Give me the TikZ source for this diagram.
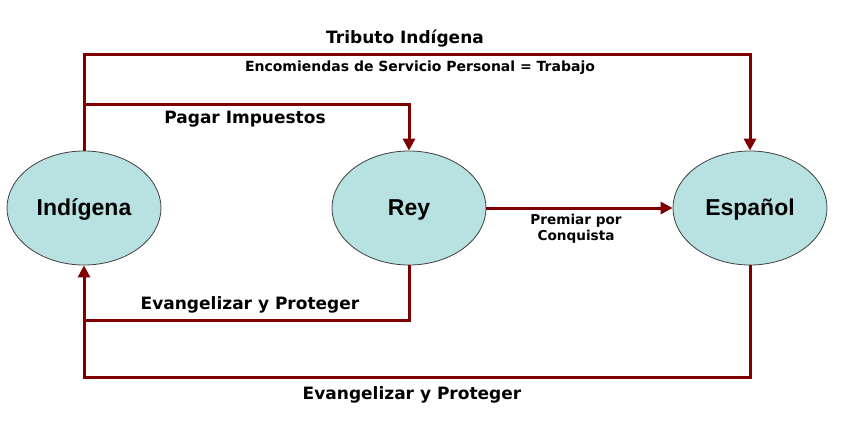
\documentclass[tikz,border=0pt]{standalone}
\usepackage{fontspec}
\setmainfont{DejaVu Sans}
\newfontfamily\nodefont{Liberation Sans}
\usetikzlibrary{arrows.meta,shapes.geometric}
\definecolor{linkred}{HTML}{800000}
\definecolor{nodefill}{HTML}{B8E2E2}
\begin{document}
\begin{tikzpicture}[x=1pt,y=-1pt,
  ent/.style={ellipse, draw=black!75, line width=0.8pt, fill=nodefill, minimum width=154pt, minimum height=114pt, inner sep=0pt, font=\nodefont\bfseries\fontsize{23}{26}\selectfont, text depth=1pt},
  link/.style={draw=linkred, line width=3pt, -{Triangle[length=12pt,width=12pt]}},
  plainlink/.style={draw=linkred, line width=3pt},
  lbl/.style={font=\bfseries\fontsize{17}{20}\selectfont, inner sep=0pt},
  sublbl/.style={font=\bfseries\fontsize{13.6}{16}\selectfont, inner sep=0pt, align=center},
  enclbl/.style={font=\bfseries\fontsize{14}{16}\selectfont, inner sep=0pt}
]
\useasboundingbox (0,0) rectangle (843,440);
\node[ent] (ind) at (84,208) {Indígena};
\node[ent] (rey) at (409,208) {Rey};
\node[ent] (esp) at (750,208) {Español};
\coordinate (tc) at (400,54);
\coordinate (pj) at (84,104);
\coordinate (ej) at (84,320);
\coordinate (bc) at (400,377);
\draw[link] (ind.north) |- (tc) -| (esp.north);
\draw[link] (pj) -| (rey.north);
\draw[link] (rey.east) -- (esp.west);
\draw[plainlink] (rey.south) |- (ej);
\draw[link] (esp.south) |- (bc) -| (ind.south);
\node[lbl] (t1) at (405,39) {Tributo Indígena};
\node[enclbl] (t2) at (420,68) {Encomiendas de Servicio Personal = Trabajo};
\node[lbl] (t3) at (245,119) {Pagar Impuestos};
\node[sublbl] (t4) at (576,229) {Premiar por\\Conquista};
\node[lbl] (t5) at (250,305) {Evangelizar y Proteger};
\node[lbl] (t6) at (412,395) {Evangelizar y Proteger};
\end{tikzpicture}
\end{document}
